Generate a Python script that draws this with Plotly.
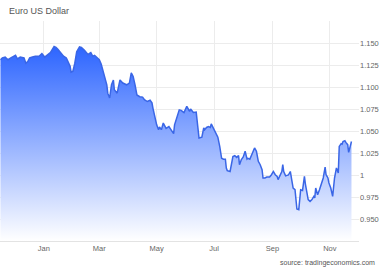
import plotly.graph_objects as go

dates = [
"2021-11-16","2021-11-18","2021-11-21","2021-11-24","2021-11-27","2021-11-30","2021-12-02","2021-12-04",
"2021-12-07","2021-12-11","2021-12-13","2021-12-15","2021-12-17","2021-12-20","2021-12-23","2021-12-27",
"2021-12-30","2022-01-02","2022-01-05","2022-01-08","2022-01-12","2022-01-14","2022-01-16","2022-01-18",
"2022-01-20","2022-01-22","2022-01-25","2022-01-27","2022-01-29","2022-01-30","2022-02-01","2022-02-03",
"2022-02-05","2022-02-08","2022-02-10","2022-02-13","2022-02-15","2022-02-17","2022-02-20","2022-02-22",
"2022-02-24","2022-02-27","2022-03-01","2022-03-03","2022-03-05","2022-03-07","2022-03-09","2022-03-10",
"2022-03-12","2022-03-14","2022-03-16","2022-03-17","2022-03-20","2022-03-23","2022-03-26","2022-03-30",
"2022-04-02","2022-04-04","2022-04-06","2022-04-08","2022-04-10","2022-04-13","2022-04-16","2022-04-18",
"2022-04-21","2022-04-24","2022-04-26","2022-04-27","2022-04-29","2022-05-01","2022-05-03","2022-05-04",
"2022-05-06","2022-05-08","2022-05-10","2022-05-11","2022-05-14","2022-05-17","2022-05-19","2022-05-20",
"2022-05-22","2022-05-25","2022-05-27","2022-05-30","2022-06-02","2022-06-05","2022-06-06","2022-06-09",
"2022-06-12","2022-06-13","2022-06-15","2022-06-18","2022-06-20","2022-06-21","2022-06-23","2022-06-25",
"2022-06-27","2022-06-28","2022-06-30","2022-07-02","2022-07-04","2022-07-05","2022-07-07","2022-07-09",
"2022-07-11","2022-07-13","2022-07-14","2022-07-15","2022-07-18","2022-07-20","2022-07-21","2022-07-23",
"2022-07-25","2022-07-27","2022-07-28","2022-07-30","2022-08-01","2022-08-03","2022-08-05","2022-08-06",
"2022-08-08","2022-08-10","2022-08-12","2022-08-13","2022-08-15","2022-08-17","2022-08-19","2022-08-21",
"2022-08-22","2022-08-24","2022-08-26","2022-08-28","2022-08-29","2022-08-31","2022-09-02","2022-09-04",
"2022-09-06","2022-09-07","2022-09-09","2022-09-11","2022-09-12","2022-09-13","2022-09-15","2022-09-18",
"2022-09-20","2022-09-21","2022-09-23","2022-09-25","2022-09-26","2022-09-27","2022-09-29","2022-09-30",
"2022-10-01","2022-10-03","2022-10-05","2022-10-06","2022-10-08","2022-10-09","2022-10-11","2022-10-13",
"2022-10-15","2022-10-16","2022-10-17","2022-10-19","2022-10-21","2022-10-23","2022-10-25","2022-10-27",
"2022-10-28","2022-10-30","2022-10-31","2022-11-02","2022-11-04","2022-11-06","2022-11-07","2022-11-08",
"2022-11-10","2022-11-11","2022-11-13","2022-11-14","2022-11-15","2022-11-17","2022-11-18","2022-11-20",
"2022-11-21","2022-11-23","2022-11-24",
]

eurusd = [
1.131,1.133,1.134,1.131,1.133,1.135,1.136,1.132,
1.134,1.133,1.127,1.129,1.133,1.134,1.135,1.135,
1.138,1.134,1.137,1.139,1.146,1.145,1.143,1.140,
1.137,1.135,1.133,1.128,1.1235,1.117,1.118,1.127,
1.140,1.1455,1.145,1.142,1.140,1.137,1.139,1.135,
1.136,1.133,1.131,1.126,1.117,1.110,1.1025,1.093,
1.0875,1.1025,1.108,1.097,1.093,1.108,1.1045,1.1025,
1.1045,1.116,1.112,1.1025,1.091,1.089,1.0885,1.0855,
1.0835,1.085,1.082,1.076,1.0665,1.057,1.0515,1.0545,
1.0515,1.059,1.055,1.053,1.055,1.0495,1.047,1.057,
1.065,1.074,1.0735,1.071,1.078,1.0722,1.075,1.071,
1.0715,1.059,1.042,1.043,1.0535,1.0515,1.054,1.055,
1.054,1.058,1.0535,1.0495,1.0447,1.043,1.0325,1.019,
1.018,1.018,1.008,1.005,1.004,1.0136,1.021,1.022,
1.020,1.022,1.0117,1.0175,1.0205,1.027,1.018,1.019,
1.018,1.023,1.027,1.0307,1.027,1.0155,1.0117,1.006,
0.9966,0.9966,0.9977,0.998,0.9977,1.0003,1.004,1.0003,
0.9984,0.9947,1.0003,1.004,1.0117,1.004,0.999,1.000,
1.004,0.999,0.9852,0.9833,0.970,0.9614,0.9606,0.972,
0.9833,0.9825,0.9984,0.990,0.9776,0.972,0.970,0.972,
0.9757,0.974,0.9852,0.9776,0.9833,0.989,0.9966,1.009,
1.0003,0.9966,0.991,0.9852,0.9757,0.9966,1.0023,1.008,
1.0023,1.0325,1.0356,1.035,1.038,1.039,1.037,1.0345,
1.0257,1.0333,1.038,
]

x_tick_vals = ["2022-01-01", "2022-03-01", "2022-05-01", "2022-07-01", "2022-09-01", "2022-11-01"]
x_tick_text = ["Jan", "Mar", "May", "Jul", "Sep", "Nov"]
y_tick_vals = [0.95, 0.975, 1.0, 1.025, 1.05, 1.075, 1.1, 1.125, 1.15, 1.175]
y_tick_text = ["0.950", "0.975", "1", "1.025", "1.050", "1.075", "1.100", "1.125", "1.150", ""]

FONT = "Liberation Sans, Arial, sans-serif"

fig = go.Figure()
fig.add_trace(go.Scatter(
    x=dates, y=eurusd, mode="lines",
    line=dict(color="#3a66e6", width=1.5),
    fill="tozeroy",
    fillgradient=dict(
        type="vertical",
        start=0.925, stop=1.15,
        colorscale=[[0, "rgb(255,255,255)"], [1, "rgb(41,98,255)"]],
    ),
    hoverinfo="skip",
    showlegend=False,
))

fig.update_layout(
    width=390, height=271,
    margin=dict(l=0, r=31, t=21, b=30),
    paper_bgcolor="white", plot_bgcolor="white",
    font=dict(family=FONT, color="#666666", size=8),
    xaxis=dict(
        type="date",
        range=["2021-11-15 12:00", "2022-12-02"],
        tickvals=x_tick_vals, ticktext=x_tick_text,
        showgrid=True, gridcolor="#ececec", gridwidth=1,
        showline=True, linecolor="#e3e3e3", linewidth=1,
        ticks="", tickfont=dict(size=7.5, color="#666666"),
        zeroline=False, fixedrange=True,
    ),
    yaxis=dict(
        side="right",
        range=[0.925, 1.175],
        tickvals=y_tick_vals, ticktext=y_tick_text,
        showgrid=True, gridcolor="#ececec", gridwidth=1,
        showline=False, ticks="", zeroline=False,
        tickfont=dict(size=7.5, color="#666666"),
        fixedrange=True,
    ),
    annotations=[
        dict(text="Euro US Dollar", xref="paper", yref="paper", x=0, y=1,
             xanchor="left", yanchor="middle", xshift=7, yshift=10.5,
             showarrow=False, font=dict(size=9, color="#555555", family=FONT)),
        dict(text="source: tradingeconomics.com", xref="paper", yref="paper", x=1, y=0,
             xanchor="right", yanchor="middle", xshift=18, yshift=-22,
             showarrow=False, font=dict(size=7, color="#555555", family=FONT)),
    ],
)

fig.write_html("out.html")
